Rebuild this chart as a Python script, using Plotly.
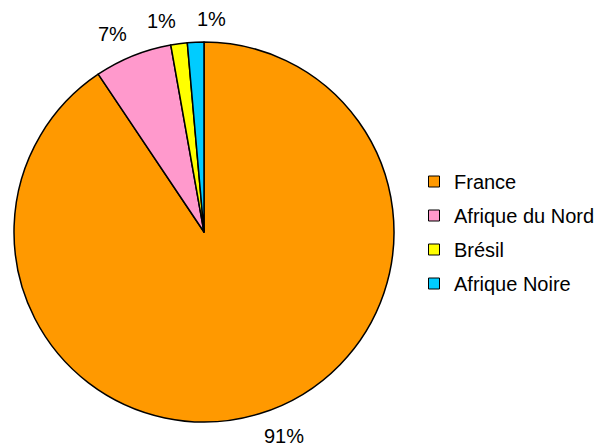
import math
import plotly.graph_objects as go

labels = ["France", "Afrique du Nord", "Brésil", "Afrique Noire"]
values = [90.6, 6.6, 1.4, 1.4]
colors = ["#FF9900", "#FF99CC", "#FFFF00", "#00CCFF"]

W, H = 603, 448
# page body has an 8px margin; pie centre wanted at (204,232) on screen, r=190
cx, cy, r = 204 - 8, 232 - 8, 190
FONT = "Liberation Sans, Arial, sans-serif"
FS = 20

fig = go.Figure(go.Pie(
    labels=labels,
    values=values,
    sort=False,
    direction="clockwise",
    rotation=0,
    marker=dict(colors=colors, line=dict(color="black", width=1.5)),
    textinfo="none",
    domain=dict(x=[(cx - r) / W, (cx + r) / W], y=[1 - (cy + r) / H, 1 - (cy - r) / H]),
    showlegend=False,
    hoverinfo="label+percent",
))

# percentage labels outside each slice, placed from the slice mid-angle
total = sum(values)
cum = 0.0
gap = 10
boxes = []
for lab, v in zip(labels, values):
    mid = (cum + v / 2) / total * 2 * math.pi
    cum += v
    s, c = math.sin(mid), math.cos(mid)
    px = cx + (r + gap) * s
    py = cy - (r + gap) * c
    txt = f"{round(v / total * 100):.0f}%"
    w = len(txt) * 0.6 * FS
    xa = "left" if s > 0 else "right"
    left = px if xa == "left" else px - w
    # avoid overlapping previously placed labels: flip to other side
    for (bl, br, bt) in boxes:
        if left < br and left + w > bl and abs(bt - py) < FS:
            xa = "left"
            left = px
            break
    boxes.append((left, left + w, py))
    fig.add_annotation(
        x=px / W, y=1 - py / H, xref="paper", yref="paper",
        text=txt, showarrow=False,
        xanchor=xa, yanchor="bottom" if c > 0 else "top",
        font=dict(family=FONT, size=FS, color="black"),
    )

# legend entries (one group each so the row spacing can be set)
for lab, col in zip(labels, colors):
    fig.add_trace(go.Scatter(
        x=[None], y=[None], mode="markers", name=lab, legendgroup=lab,
        marker=dict(symbol="square", size=11, color=col, line=dict(color="black", width=1)),
    ))

fig.update_layout(
    width=W, height=H,
    margin=dict(l=0, r=0, t=0, b=0),
    paper_bgcolor="white",
    plot_bgcolor="white",
    xaxis=dict(visible=False),
    yaxis=dict(visible=False),
    font=dict(family=FONT, color="black"),
    legend=dict(
        x=406 / W, y=1 - (232.5 - 8) / H, xanchor="left", yanchor="middle",
        font=dict(size=FS, color="black"),
        itemwidth=30,
        tracegroupgap=5,
        traceorder="grouped",
    ),
    showlegend=True,
)

fig.write_html("out.html")
